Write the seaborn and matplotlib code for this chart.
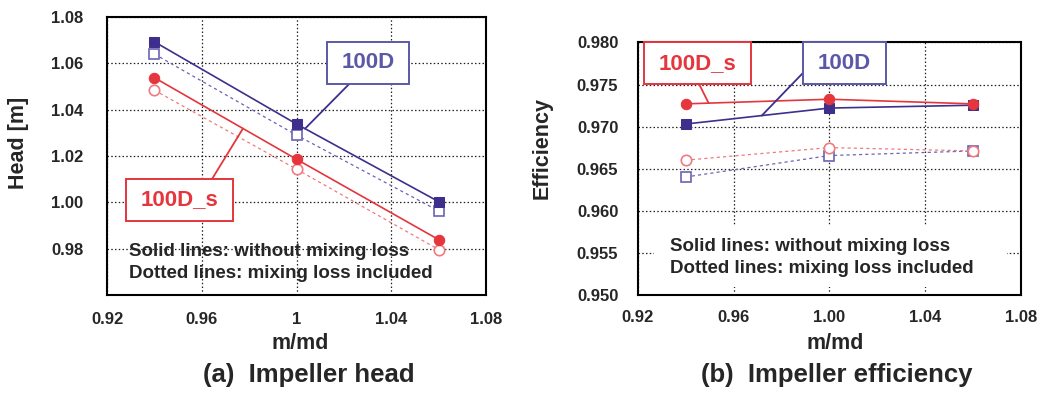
import matplotlib
matplotlib.use("Agg")
import matplotlib.pyplot as plt
import numpy as np
import pandas as pd
import seaborn as sns
from matplotlib.patches import Rectangle

sns.set_style("white")
plt.rcParams['font.family'] = ['Liberation Sans', 'DejaVu Sans']
plt.rcParams['font.weight'] = 'bold'

# ---- data ----
m_md = [0.94, 1.00, 1.06]

head_100D = [1.0693, 1.0338, 1.0003]
head_100D_mix = [1.0640, 1.0290, 0.9963]
head_100Ds = [1.0538, 1.0186, 0.9839]
head_100Ds_mix = [1.0484, 1.0143, 0.9796]

eff_100D = [0.9703, 0.9722, 0.97254]
eff_100D_mix = [0.9640, 0.96655, 0.9671]
eff_100Ds = [0.9727, 0.97325, 0.9727]
eff_100Ds_mix = [0.9660, 0.9675, 0.9671]

head_xticks = [0.92, 0.96, 1.00, 1.04, 1.08]
head_xlabels = ["0.92", "0.96", "1", "1.04", "1.08"]
head_yticks = [0.98, 1.00, 1.02, 1.04, 1.06, 1.08]
eff_xlabels = ["0.92", "0.96", "1.00", "1.04", "1.08"]
eff_yticks = [0.950, 0.955, 0.960, 0.965, 0.970, 0.975, 0.980]

BLUE = '#3d2f8b'
BLUE_LT = '#6a64b4'
BLUE_BOX = '#5b58a8'
RED = '#e5353d'
RED_LT = '#ef7a80'
NOTE = "Solid lines: without mixing loss\nDotted lines: mixing loss included"


def series(ax, y, color, marker, filled):
    df = pd.DataFrame({'x': m_md, 'y': y})
    if filled:
        sns.lineplot(data=df, x='x', y='y', ax=ax, color=color, lw=1.2,
                     marker=marker, markersize=7.5, markerfacecolor=color,
                     markeredgecolor=color, zorder=4)
    else:
        sns.lineplot(data=df, x='x', y='y', ax=ax, color=color, lw=0.9,
                     linestyle=(0, (2.5, 2.5)), marker=marker, markersize=7.5,
                     markerfacecolor='white', markeredgecolor=color,
                     markeredgewidth=1.2, zorder=3)


def callout(ax, label, color, box, start, end):
    x0, y0, x1, y1 = box
    ax.add_patch(Rectangle((x0, y0), x1 - x0, y1 - y0, transform=ax.transAxes,
                           facecolor='white', edgecolor=color, lw=1.4,
                           zorder=6, clip_on=False))
    ax.text((x0 + x1) / 2, (y0 + y1) / 2, label, transform=ax.transAxes,
            ha='center', va='center', fontsize=16, color=color,
            fontweight='bold', zorder=7)
    ax.annotate('', xy=end, xycoords='data', xytext=start,
                textcoords='axes fraction',
                arrowprops=dict(arrowstyle='-', color=BLUE if color == BLUE_BOX else RED,
                                lw=1.3, shrinkA=0, shrinkB=0), zorder=5)


def style_axes(ax):
    ax.grid(True, color='#222222', linestyle=(0, (1.2, 1.8)), lw=0.9)
    for s in ax.spines.values():
        s.set_color('black')
        s.set_linewidth(1.5)
    ax.tick_params(length=0, labelsize=12)
    for t in ax.get_xticklabels() + ax.get_yticklabels():
        t.set_fontweight('bold')


fig = plt.figure(figsize=(10.4, 3.93), dpi=100)

# ---- (a) impeller head ----
ax1 = fig.add_axes([0.1029, 0.2494, 0.3644, 0.7074])
series(ax1, head_100D_mix, BLUE_LT, 's', False)
series(ax1, head_100Ds_mix, RED_LT, 'o', False)
series(ax1, head_100D, BLUE, 's', True)
series(ax1, head_100Ds, RED, 'o', True)
ax1.set_xlim(0.92, 1.08)
ax1.set_ylim(0.96, 1.08)
ax1.set_xticks(head_xticks)
ax1.set_xticklabels(head_xlabels)
ax1.set_yticks(head_yticks)
ax1.set_yticklabels(["%.2f" % v for v in head_yticks])
style_axes(ax1)
ax1.tick_params(axis='y', pad=17)
ax1.tick_params(axis='x', pad=12)
ax1.set_xlabel("m/md", fontsize=15.5, fontweight='bold')
ax1.set_ylabel("Head [m]", fontsize=15.5, fontweight='bold')
ax1.xaxis.set_label_coords(0.51, -0.135)
ax1.yaxis.set_label_coords(-0.205, 0.547)
ax1.text(0.058, 0.117, NOTE, transform=ax1.transAxes, ha='left', va='center',
         fontsize=13.5, fontweight='bold', linespacing=1.4, zorder=8)
callout(ax1, "100D", BLUE_BOX, (0.580, 0.759, 0.797, 0.910), (0.639, 0.759),
        (1.0036, np.interp(1.0036, m_md, head_100D)))
callout(ax1, "100D_s", RED, (0.050, 0.266, 0.332, 0.417), (0.277, 0.417),
        (0.9774, np.interp(0.9774, m_md, head_100Ds)))

# ---- (b) impeller efficiency ----
ax2 = fig.add_axes([0.6132, 0.2501, 0.3685, 0.6418])
series(ax2, eff_100D_mix, BLUE_LT, 's', False)
series(ax2, eff_100Ds_mix, RED_LT, 'o', False)
series(ax2, eff_100D, BLUE, 's', True)
series(ax2, eff_100Ds, RED, 'o', True)
ax2.set_xlim(0.92, 1.08)
ax2.set_ylim(0.950, 0.980)
ax2.set_xticks(head_xticks)
ax2.set_xticklabels(eff_xlabels)
ax2.set_yticks(eff_yticks)
ax2.set_yticklabels(["%.3f" % v for v in eff_yticks])
style_axes(ax2)
ax2.tick_params(axis='y', pad=14)
ax2.tick_params(axis='x', pad=11)
ax2.set_xlabel("m/md", fontsize=15.5, fontweight='bold')
ax2.set_ylabel("Efficiency", fontsize=15.5, fontweight='bold')
ax2.xaxis.set_label_coords(0.515, -0.150)
ax2.yaxis.set_label_coords(-0.222, 0.582)
ax2.add_patch(Rectangle((0.0425, 0.0305), 0.9215, 0.2455, transform=ax2.transAxes,
                        facecolor='white', edgecolor='none', zorder=2.5))
ax2.text(0.084, 0.149, NOTE, transform=ax2.transAxes, ha='left', va='center',
         fontsize=13.5, fontweight='bold', linespacing=1.4, zorder=8)
callout(ax2, "100D_s", RED, (0.0164, 0.8355, 0.2956, 1.0), (0.160, 0.8355),
        (0.9496, np.interp(0.9496, m_md, eff_100Ds)))
callout(ax2, "100D", BLUE_BOX, (0.431, 0.8355, 0.648, 1.0), (0.431, 0.879),
        (0.9718, np.interp(0.9718, m_md, eff_100D)))

fig.text(309 / 1040, 1 - 375 / 393, "(a)  Impeller head", ha='center', va='center',
         fontsize=18.5, fontweight='bold')
fig.text(837 / 1040, 1 - 375 / 393, "(b)  Impeller efficiency", ha='center',
         va='center', fontsize=18.5, fontweight='bold')

fig.savefig("out.png", dpi=100)
